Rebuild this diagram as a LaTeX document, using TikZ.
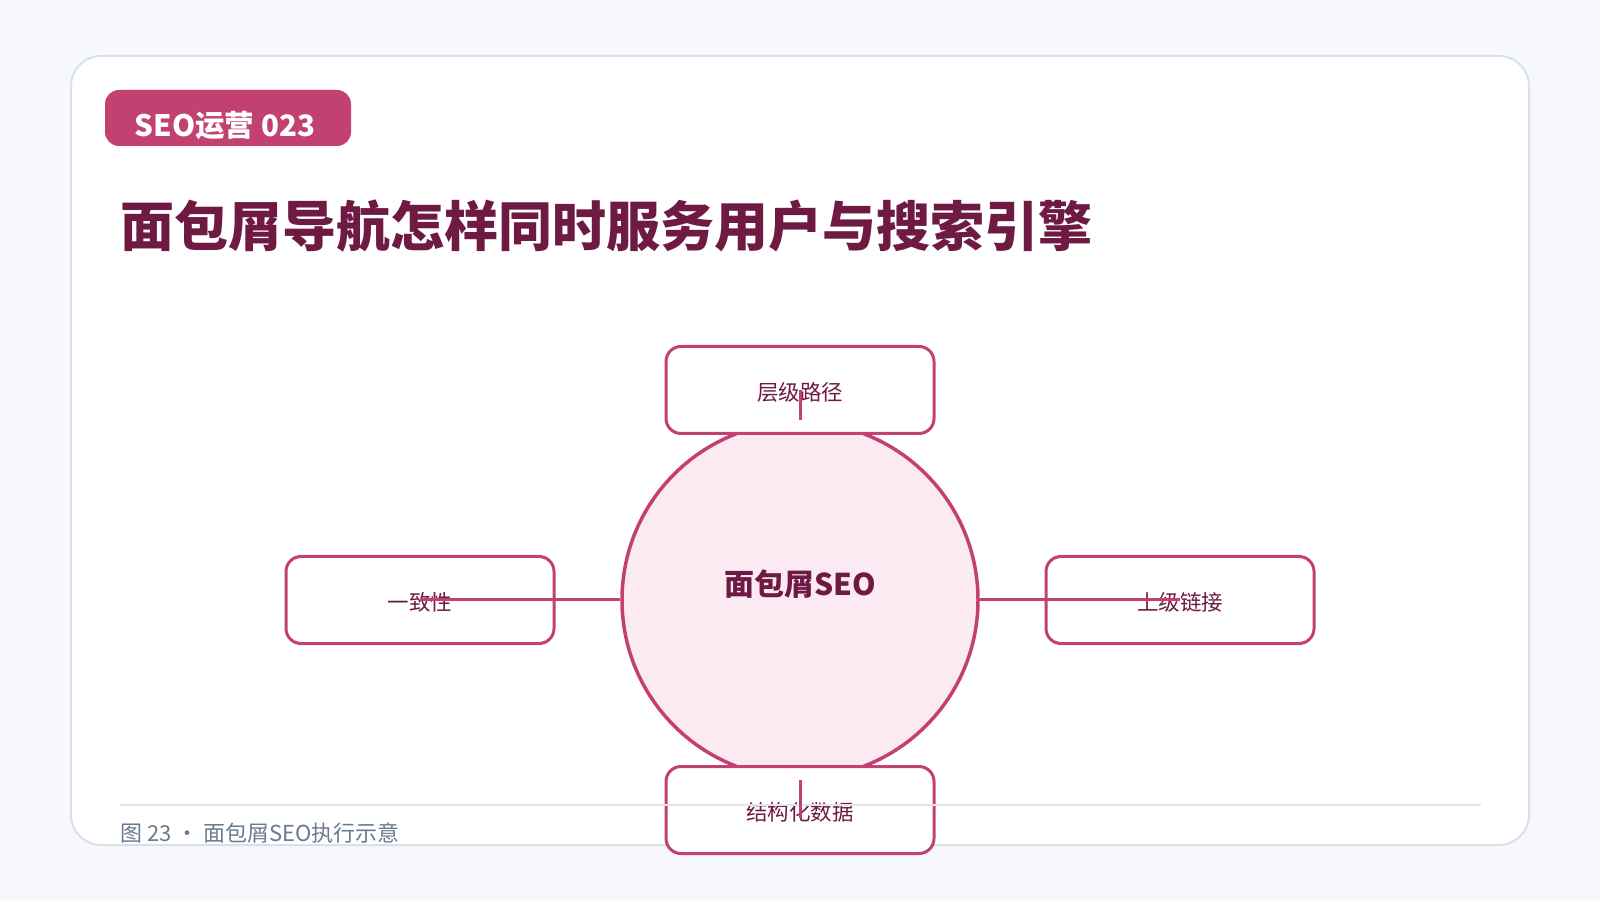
\documentclass[tikz,border=0pt]{standalone}
\usepackage{fontspec}
\setmainfont{Noto Sans CJK SC}
\definecolor{bgc}{HTML}{F6F8FC}
\definecolor{cardline}{HTML}{D8E0EA}
\definecolor{accent}{HTML}{C24171}
\definecolor{deep}{HTML}{6E1A42}
\definecolor{hubfill}{HTML}{FBEAF1}
\definecolor{capc}{HTML}{6B7A90}
\definecolor{divc}{HTML}{E1E6ED}
\newcommand{\boxlabel}[1]{\raisebox{-2pt}[\height][\depth]{#1}}
\begin{document}
\begin{tikzpicture}[x=1pt,y=1pt,
  box/.style={draw=accent, line width=3pt, fill=white, rounded corners=15pt,
    minimum width=268pt, minimum height=87pt, inner sep=0pt,
    font=\fontsize{21.5}{24}\selectfont, text=deep},
  link/.style={draw=accent, line width=3pt}]
\fill[bgc] (0,0) rectangle (1600,900);
\useasboundingbox (0,0) rectangle (1600,900);
\draw[draw=cardline, fill=white, line width=2pt, rounded corners=30pt] (71,55) rectangle (1529,844);
\node[fill=accent, rounded corners=14pt, minimum width=246pt, minimum height=56pt, inner sep=0pt] (tag) at (228,782) {};
\node[anchor=base, inner sep=0pt, text=white, font=\bfseries\fontsize{29.5}{34}\selectfont] (tagtext) at (225,763) {SEO运营 023};
\node[anchor=base west, inner sep=0pt, text=deep, font=\bfseries\fontsize{54}{64}\selectfont] (title) at (120,653) {面包屑导航怎样同时服务用户与搜索引擎};
\node[circle, draw=accent, line width=3.5pt, fill=hubfill, minimum size=356pt, inner sep=0pt] (hub) at (800,300) {};
\node[inner sep=0pt, text=deep, font=\bfseries\fontsize{30}{34}\selectfont] (hubtext) at (800,316) {面包屑SEO};
\node[box] (top) at (800,510) {\boxlabel{层级路径}};
\node[box] (left) at (420,300) {\boxlabel{一致性}};
\node[box] (right) at (1180,300) {\boxlabel{上级链接}};
\node[box] (bot) at (800,90) {\boxlabel{结构化数据}};
\draw[divc, line width=2pt] (120,95) -- (1481,95);
\node[anchor=west, inner sep=0pt, text=capc, font=\fontsize{22}{26}\selectfont] (cap) at (120,67) {图 23 · 面包屑SEO执行示意};
\draw[link] (top.center) -- (hub);
\draw[link] (left.center) -- (hub);
\draw[link] (right.center) -- (hub);
\draw[link] ([yshift=-8pt]bot.center) -- (hub);
\end{tikzpicture}
\end{document}
